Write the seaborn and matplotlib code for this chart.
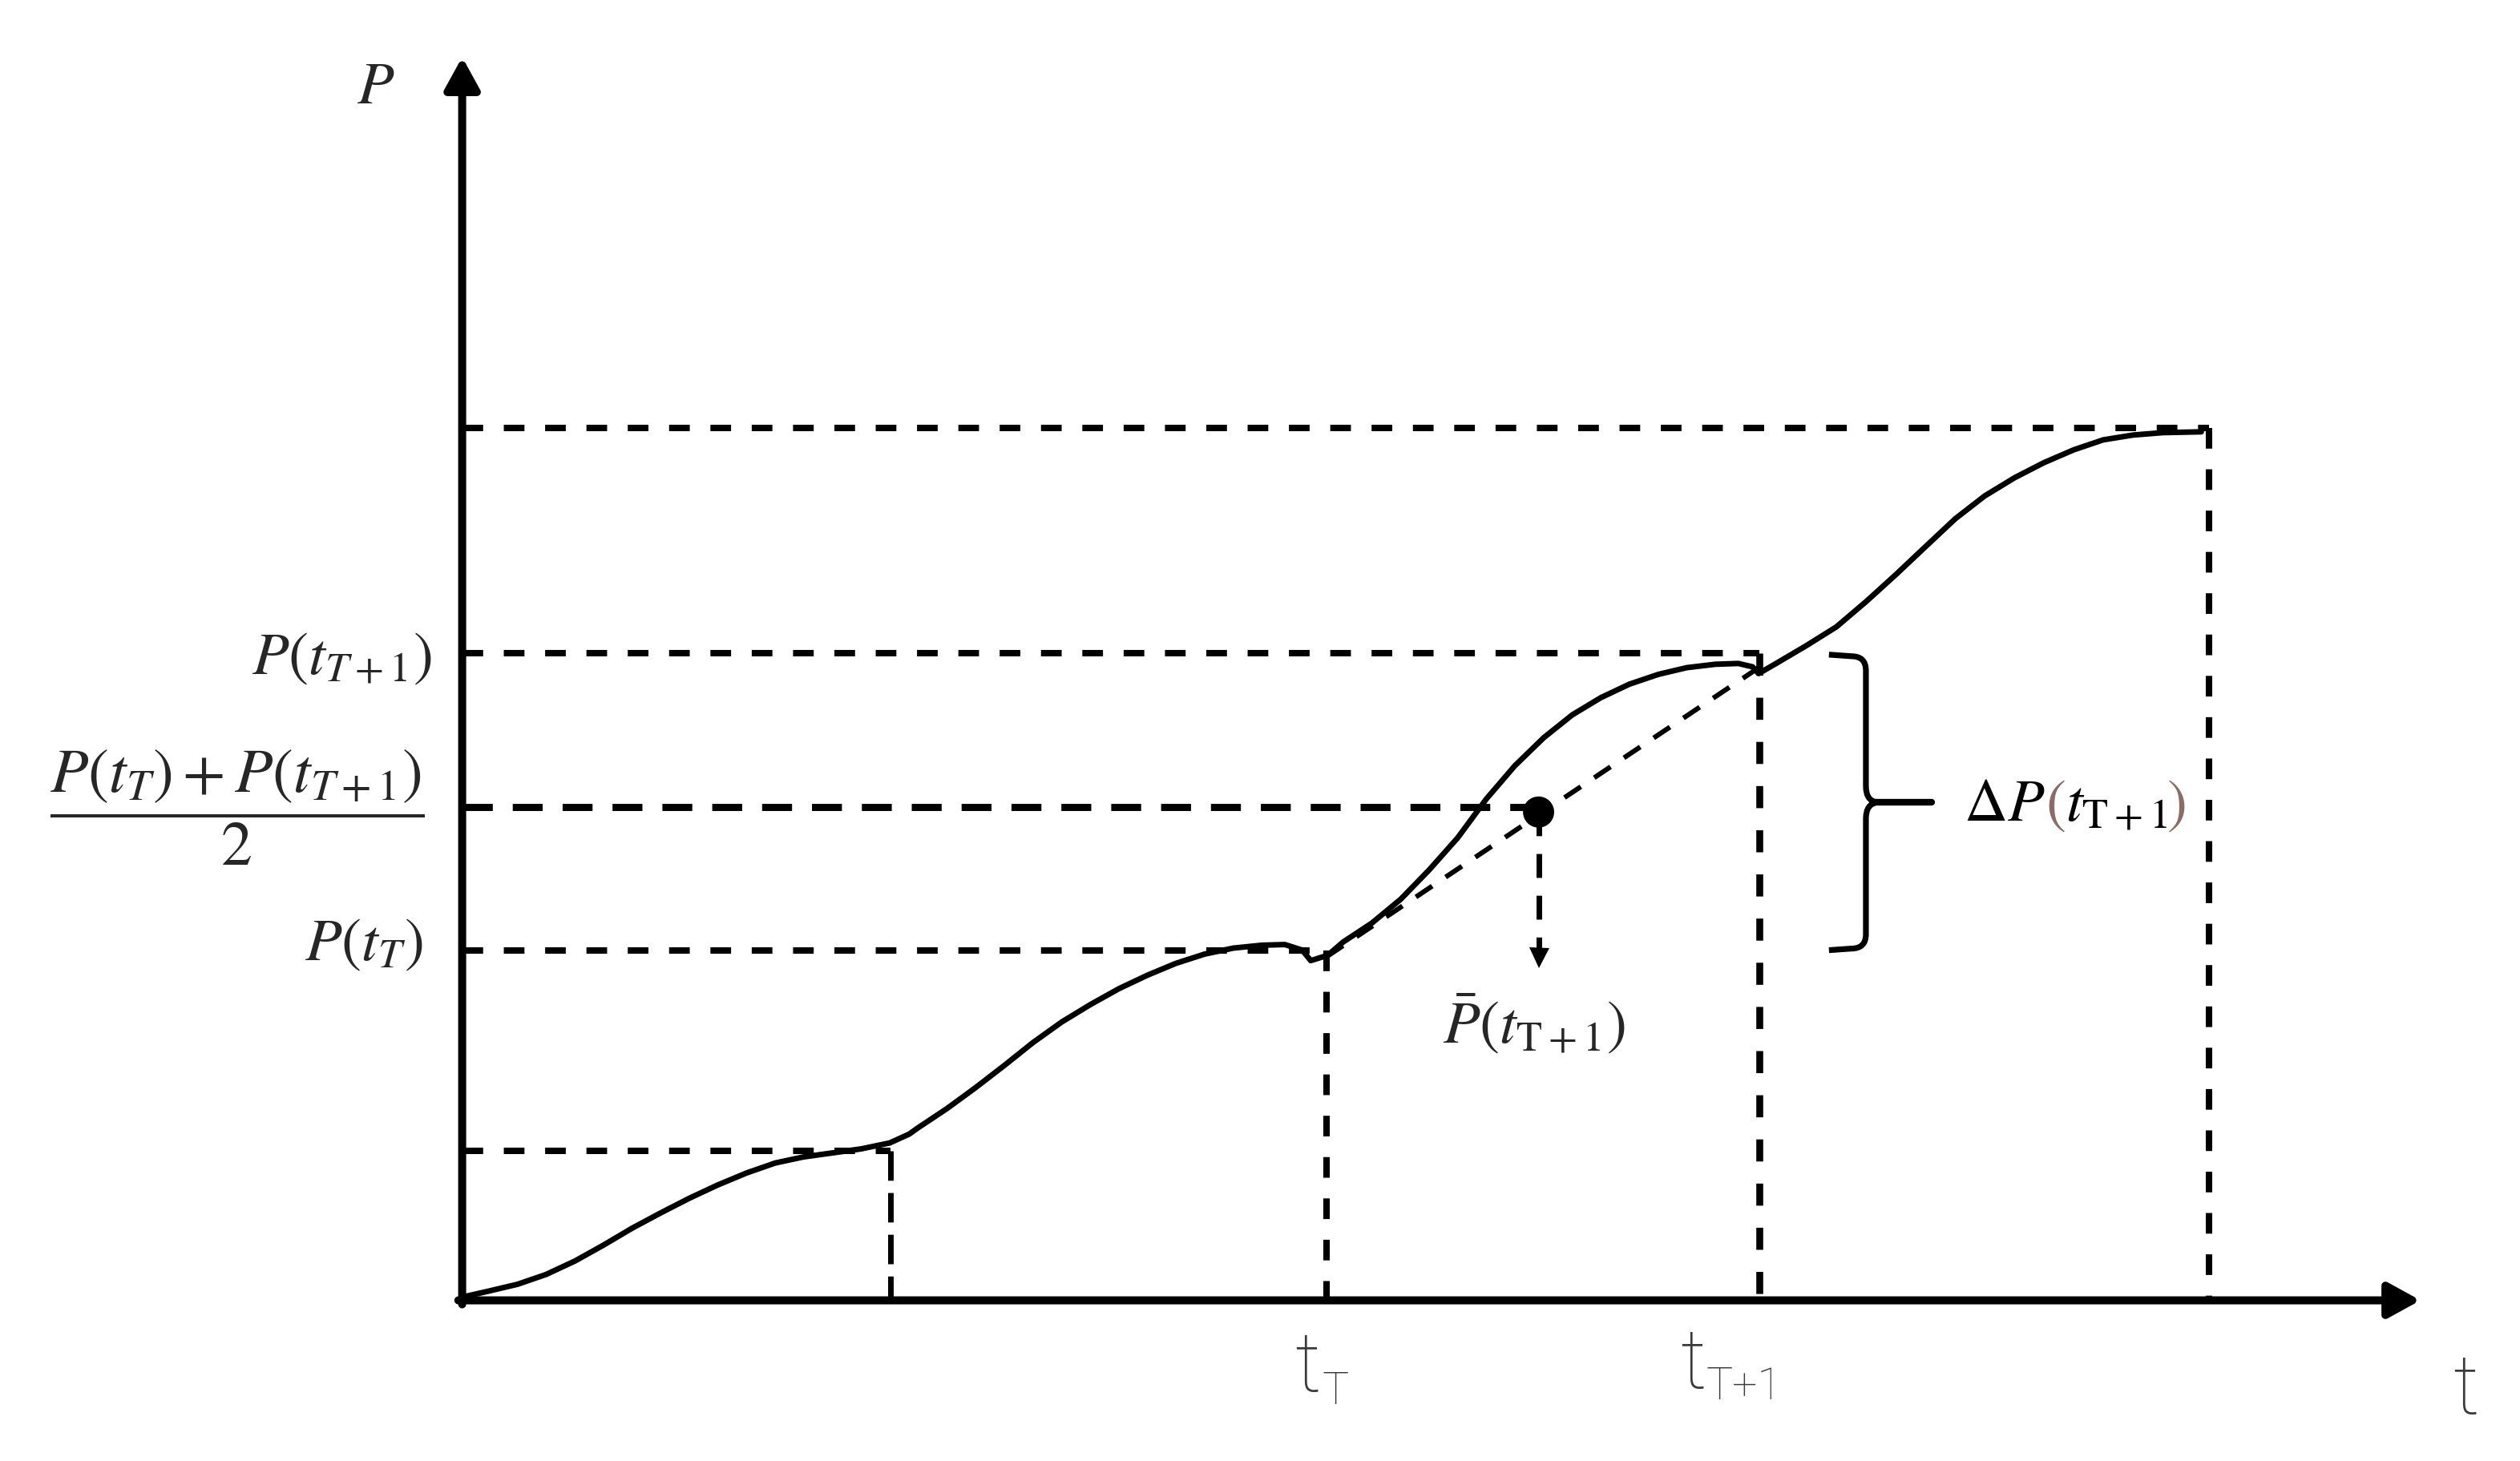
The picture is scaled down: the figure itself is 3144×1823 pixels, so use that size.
import matplotlib
matplotlib.use('Agg')
import matplotlib.pyplot as plt
from matplotlib.path import Path
from matplotlib.patches import PathPatch
import seaborn as sns

# 곡선 P(t) - 그림에서 읽은 값
t_curve = [0.0, 0.062, 0.128, 0.194, 0.261, 0.327, 0.393, 0.459, 0.525, 0.591,
           0.658, 0.724, 0.790, 0.857, 0.923, 0.989, 1.034,
           1.055, 1.122, 1.188, 1.254, 1.320, 1.387, 1.453, 1.519, 1.585,
           1.651, 1.718, 1.784, 1.850, 1.903, 1.943, 1.963, 2.002,
           2.038, 2.104, 2.171, 2.237, 2.303, 2.369, 2.435, 2.502, 2.568,
           2.634, 2.700, 2.767, 2.833, 2.899, 2.952, 2.985, 2.999,
           3.042, 3.110, 3.179, 3.248, 3.316, 3.385, 3.454, 3.522, 3.591,
           3.659, 3.728, 3.796, 3.865, 3.934, 4.023]
p_curve = [0.02, 0.058, 0.100, 0.161, 0.245, 0.344, 0.449, 0.544, 0.635, 0.718,
           0.793, 0.855, 0.893, 0.918, 0.943, 0.980, 1.035,
           1.075, 1.195, 1.325, 1.462, 1.604, 1.733, 1.841, 1.940, 2.024,
           2.098, 2.156, 2.193, 2.211, 2.215, 2.181, 2.115, 2.148,
           2.231, 2.348, 2.497, 2.680, 2.880, 3.121, 3.328, 3.503, 3.645,
           3.752, 3.836, 3.897, 3.939, 3.960, 3.965, 3.944, 3.902,
           3.969, 4.077, 4.193, 4.351, 4.517, 4.692, 4.866, 5.008, 5.121,
           5.215, 5.295, 5.357, 5.387, 5.402, 5.407]

# 보조선 위치 (t, P)
t_guides = [0.99, 2.0, 3.0, 4.04]
p_guides = [0.93, 2.18, 4.03, 5.43]

# 평균점과 대각선
p_mid_line = 3.07
dot_t, dot_p = 2.49, 3.04
arrow_tip_p = 2.07
diag_t = [2.0, 3.0]
diag_p = [2.14, 3.94]

t_max, p_max = 4.53, 7.74

label_color = '#3a3a3a'
paren_color = '#8a6d68'

sns.set_theme(style='white')
plt.rcParams['mathtext.fontset'] = 'stix'
plt.rcParams['font.family'] = ['DejaVu Sans']

fig = plt.figure(figsize=(15.72, 9.12), dpi=200)
ax = fig.add_axes([0.1834, 0.1099, 0.7771, 0.8505])
ax.set_xlim(0, t_max)
ax.set_ylim(0, p_max)
ax.axis('off')

# 보조 점선
styles = [
    dict(lw=2.5, ls=(0, (5.3, 2.2))),
    dict(lw=2.9, ls=(0, (3.2, 3.2))),
    dict(lw=3.1, ls=(0, (3.2, 3.2))),
    dict(lw=2.9, ls=(0, (3.2, 3.2))),
]
for t, p, st in zip(t_guides, p_guides, styles):
    ax.plot([0, t], [p, p], color='black', lw=2.9, ls=(0, (3.2, 3.2)), clip_on=False)
    ax.plot([t, t], [p, 0], color='black', clip_on=False, **st)

ax.plot([0, dot_t], [p_mid_line, p_mid_line], color='black', lw=3.2,
        ls=(0, (4.2, 2.8)), clip_on=False)
ax.plot(diag_t, diag_p, color='black', lw=2.2, ls=(0, (4, 3.3)))

# 곡선
sns.lineplot(x=t_curve, y=p_curve, sort=False, estimator=None, color='black',
             lw=2.5, ax=ax, zorder=4)

# 평균점 + 아래 화살표
ax.plot([dot_t, dot_t], [dot_p, arrow_tip_p + 0.1], color='black', lw=2.5,
        ls=(0, (4.3, 3.2)))
ax.plot([dot_t], [arrow_tip_p + 0.062], marker='v', ms=9, color='black', mew=0)
sns.scatterplot(x=[dot_t], y=[dot_p], s=14 ** 2, color='black', edgecolor='none',
                ax=ax, zorder=6)

# 축 화살표
arrow_kw = dict(arrowstyle='-|>,head_length=1.0,head_width=0.55', color='black',
                lw=3.6, shrinkA=0, shrinkB=0, mutation_scale=12)
ax.annotate('', xy=(t_max, 0), xytext=(-0.009, 0), arrowprops=arrow_kw,
            annotation_clip=False)
ax.annotate('', xy=(0, p_max), xytext=(0, -0.025), arrowprops=arrow_kw,
            annotation_clip=False)

# 중괄호
def px(x, y):
    return ((x - 287.5) / 269, (810 - y) / 100)

brace_pts = [(1138, 408), (1152, 409), (1161, 409), (1161, 418), (1161, 490),
             (1161, 499), (1168, 500), (1161, 501), (1161, 510), (1161, 582),
             (1161, 591), (1152, 591), (1138, 592)]
codes = [Path.MOVETO, Path.LINETO, Path.CURVE3, Path.CURVE3, Path.LINETO,
         Path.CURVE3, Path.CURVE3, Path.CURVE3, Path.CURVE3, Path.LINETO,
         Path.CURVE3, Path.CURVE3, Path.LINETO]
brace = Path([px(*p) for p in brace_pts], codes)
ax.add_patch(PathPatch(brace, fill=False, lw=2.6, color='black', capstyle='butt'))
s0, s1 = px(1165, 500), px(1202, 500)
ax.plot([s0[0], s1[0]], [s0[1], s1[1]], color='black', lw=3.0)

# 왼쪽 라벨
math_size = 27
ax.annotate('$P$', xy=(0, 1), xycoords='axes fraction', xytext=(-39, -13),
            textcoords='offset points', ha='center', va='center', fontsize=math_size)
ax.annotate('$P(t_{T+1})$', xy=(0, p_guides[2]), xycoords=('axes fraction', 'data'),
            xytext=(-13.4, -1.4), textcoords='offset points', ha='right', va='center',
            fontsize=math_size)
ax.annotate(r'$\dfrac{P(t_T)+P(t_{T+1})}{2}$', xy=(0, p_mid_line),
            xycoords=('axes fraction', 'data'), xytext=(-101, 0),
            textcoords='offset points', ha='center', va='center', fontsize=28)
ax.annotate('$P(t_T)$', xy=(0, p_guides[1]), xycoords=('axes fraction', 'data'),
            xytext=(-17.7, 3.6), textcoords='offset points', ha='right', va='center',
            fontsize=math_size)

ax.annotate(r'$\bar{P}(t_{\mathrm{T+1}})$', xy=(dot_t, dot_p), xytext=(-2, -95),
            textcoords='offset points', ha='center', va='center', fontsize=math_size)

# ΔP 라벨 (괄호만 색 다르게)
renderer = fig.canvas.get_renderer()
anchor = px(1222, 511)
cum = 0.0
for piece, col in [(r'$\Delta P$', 'black'), ('$($', paren_color),
                   (r'$t_{\mathrm{T+1}}$', 'black'), ('$)$', paren_color)]:
    txt = ax.annotate(piece, xy=anchor, xytext=(cum, 0), textcoords='offset pixels',
                      ha='left', va='baseline', fontsize=math_size, color=col)
    cum += txt.get_window_extent(renderer).width

# 아래 t 라벨
tfont = dict(family=['Roboto', 'DejaVu Sans'], weight='light', color=label_color)
bottom = [
    (t_guides[1], 0, 't', 37, -8.5, -40.4),
    (t_guides[1], 0, 'T', 20, 3.8, -46.2),
    (t_guides[2], 0, 't', 37, -29.6, -39),
    (t_guides[2], 0, 'T+1', 20, -6.9, -44),
    (t_max, 0, 't', 37, 20.2, -50.5),
]
for x, y, s, size, dx, dy in bottom:
    ax.annotate(s, xy=(x, y), xytext=(dx, dy), textcoords='offset points',
                ha='center', va='baseline', fontsize=size, annotation_clip=False, **tfont)

fig.savefig('out.png', dpi=200)
